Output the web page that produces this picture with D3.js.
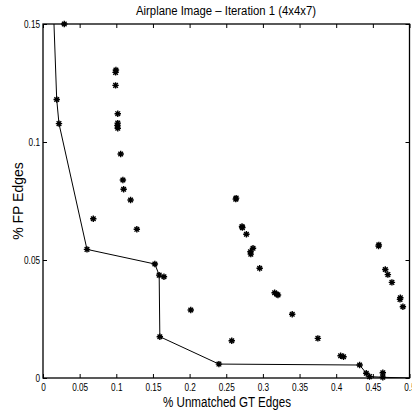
<!DOCTYPE html>
<html><head><meta charset="utf-8">
<script src="https://cdn.jsdelivr.net/npm/d3@7"></script>
<style>html,body{margin:0;padding:0;background:#fff}svg{display:block}text{font-family:"Liberation Sans",Arial,sans-serif;fill:#000}</style>
</head><body>
<script>
// Frontier line (last first point lies above the visible range)
const lineX = [0.0115, 0.0187, 0.0218, 0.060, 0.1526, 0.1585, 0.1594, 0.240, 0.432, 0.441, 0.4455, 0.4636, 0.5];
const lineY = [0.18, 0.118, 0.1078, 0.0545, 0.0483, 0.0436, 0.0175, 0.0059, 0.0055, 0.002, 0.0006, 0.0003, 0.0];
// All star markers
const ptX = [0.029, 0.0187, 0.0218, 0.060, 0.0686, 0.099, 0.0995, 0.099, 0.102, 0.102, 0.1015, 0.102,
  0.106, 0.109, 0.110, 0.1195, 0.128, 0.1526, 0.1585, 0.165, 0.1594, 0.2016, 0.2575, 0.240,
  0.263, 0.2635, 0.272, 0.2715, 0.2775, 0.2865, 0.283, 0.2835, 0.2956, 0.316, 0.319, 0.3206,
  0.340, 0.375, 0.406, 0.410, 0.432, 0.441, 0.4455, 0.4636, 0.4636, 0.4578, 0.4582,
  0.467, 0.4705, 0.476, 0.487, 0.4875, 0.491];
const ptY = [0.15, 0.118, 0.1078, 0.0545, 0.0675, 0.1295, 0.1305, 0.124, 0.112, 0.108, 0.107, 0.1058,
  0.0949, 0.0839, 0.080, 0.0754, 0.063, 0.0483, 0.0436, 0.0429, 0.0175, 0.0288, 0.0158, 0.0059,
  0.0758, 0.0762, 0.0637, 0.0642, 0.0609, 0.055, 0.0535, 0.0525, 0.0465, 0.0361, 0.0355, 0.0352,
  0.027, 0.0168, 0.0094, 0.009, 0.0055, 0.002, 0.0006, 0.0022, 0.0003, 0.0559, 0.0564,
  0.046, 0.0438, 0.0405, 0.0333, 0.034, 0.0302];
const xTicks = [0, 0.05, 0.1, 0.15, 0.2, 0.25, 0.3, 0.35, 0.4, 0.45, 0.5];
const xTickLabels = ["0", "0.05", "0.1", "0.15", "0.2", "0.25", "0.3", "0.35", "0.4", "0.45", "0.5"];
const yTicks = [0, 0.05, 0.1, 0.15];
const yTickLabels = ["0", "0.05", "0.1", "0.15"];
const title = "Airplane Image \u2013 Iteration 1 (4x4x7)";
const xLabel = "% Unmatched GT Edges";
const yLabel = "% FP Edges";

const W = 412, H = 412;
const L = 43, R = 409.5, T = 24, B = 378;
const x = d3.scaleLinear().domain([0, 0.5]).range([L, R]);
const y = d3.scaleLinear().domain([0, 0.15]).range([B, T]);

const svg = d3.select("body").append("svg").attr("width", W).attr("height", H);
svg.append("defs").append("clipPath").attr("id", "clip")
  .append("rect").attr("x", L).attr("y", T).attr("width", R - L).attr("height", B - T);

function squish(sel, f) {
  sel.each(function () {
    const len = this.getComputedTextLength();
    d3.select(this).attr("textLength", len * f).attr("lengthAdjust", "spacingAndGlyphs");
  });
}

// axes with inward ticks
const gx = svg.append("g").attr("transform", `translate(0,${B})`)
  .call(d3.axisBottom(x).tickValues(xTicks).tickSizeInner(-4).tickSizeOuter(0).tickPadding(9)
    .tickFormat((d, i) => xTickLabels[i]));
const gxt = svg.append("g").attr("transform", `translate(0,${T})`)
  .call(d3.axisTop(x).tickValues(xTicks).tickSizeInner(-4).tickSizeOuter(0).tickFormat(""));
const gy = svg.append("g").attr("transform", `translate(${L},0)`)
  .call(d3.axisLeft(y).tickValues(yTicks).tickSizeInner(-4).tickSizeOuter(0).tickPadding(3)
    .tickFormat((d, i) => yTickLabels[i]));
const gyr = svg.append("g").attr("transform", `translate(${R},0)`)
  .call(d3.axisRight(y).tickValues(yTicks).tickSizeInner(-4).tickSizeOuter(0).tickFormat(""));
[gx, gxt, gy, gyr].forEach(g => {
  g.select(".domain").remove();
  g.selectAll(".tick line").attr("stroke", "#000").attr("stroke-width", 1);
  g.selectAll("text").style("font-family", '"Liberation Sans",Arial,sans-serif').style("font-size", "10px").attr("fill", "#000");
});
gx.selectAll("text").attr("dy", null).attr("y", 13);
gy.selectAll("text").attr("dy", "0.35em");
squish(gx.selectAll("text"), 0.82);
squish(gy.selectAll("text"), 0.82);

// box
svg.append("rect").attr("x", L).attr("y", T).attr("width", R - L).attr("height", B - T)
  .attr("fill", "none").attr("stroke", "#000").attr("stroke-width", 1.3);

// frontier line
const lineData = lineX.map((v, i) => [v, lineY[i]]);
svg.append("path").attr("clip-path", "url(#clip)")
  .attr("d", d3.line().x(d => x(d[0])).y(d => y(d[1]))(lineData))
  .attr("fill", "none").attr("stroke", "#000").attr("stroke-width", 1);

// star markers (plus + cross)
const r = 3.2, q = r * 0.72;
const star = `M${-r},0L${r},0M0,${-r}L0,${r}M${-q},${-q}L${q},${q}M${-q},${q}L${q},${-q}`;
const pts = ptX.map((v, i) => [v, ptY[i]]);
svg.append("g").selectAll("path").data(pts).join("path")
  .attr("transform", d => `translate(${x(d[0])},${y(d[1])})`)
  .attr("d", star).attr("fill", "none").attr("stroke", "#000").attr("stroke-width", 1.4);

// labels
const tt = svg.append("text").attr("x", 226).attr("y", 15).attr("text-anchor", "middle")
  .style("font-size", "12px").text(title);
tt.attr("textLength", 180).attr("lengthAdjust", "spacingAndGlyphs");
const xl = svg.append("text").attr("x", 227).attr("y", 407).attr("text-anchor", "middle")
  .style("font-size", "14px").text(xLabel);
xl.attr("textLength", 128).attr("lengthAdjust", "spacingAndGlyphs");
svg.append("text").attr("transform", "translate(23,201) rotate(-90)").attr("text-anchor", "middle")
  .style("font-size", "14px").text(yLabel);
</script>
</body></html>
